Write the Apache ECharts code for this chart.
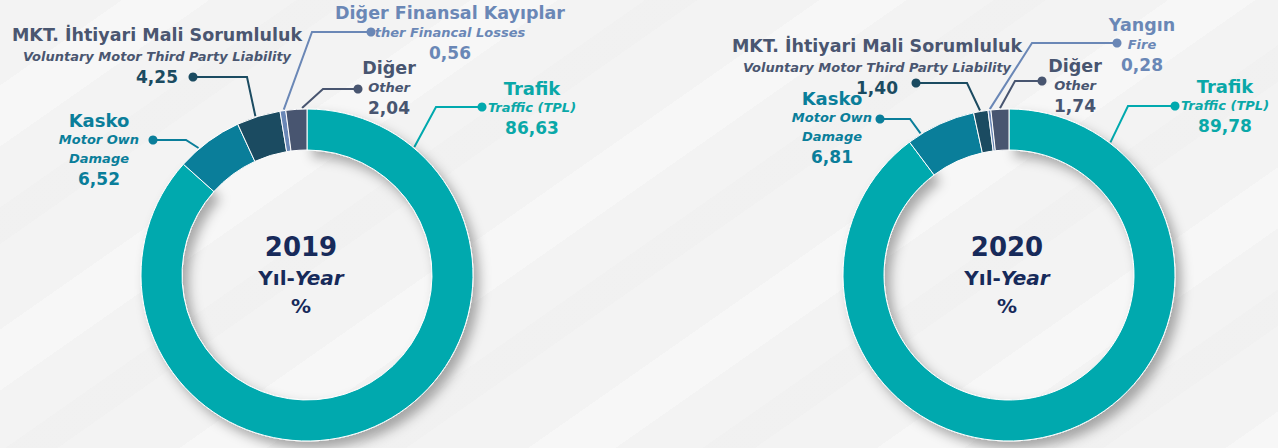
<!DOCTYPE html>
<html>
<head>
<meta charset="utf-8">
<script src="https://cdn.jsdelivr.net/npm/echarts@6/dist/echarts.min.js"></script>
<style>
  html, body { margin: 0; padding: 0; }
  body {
    width: 1278px;
    height: 448px;
    overflow: hidden;
    background-color: #f3f3f3;
    background-image: repeating-linear-gradient(145deg,
      rgba(255,255,255,0) 0px, rgba(255,255,255,0) 70px,
      rgba(255,255,255,0.35) 70px, rgba(255,255,255,0.35) 120px,
      rgba(255,255,255,0) 120px, rgba(255,255,255,0) 170px,
      rgba(236,236,236,0.3) 170px, rgba(236,236,236,0.3) 200px);
  }
  #chart { width: 1278px; height: 448px; }
</style>
</head>
<body>
<div id="chart"></div>
<script>
// data
const years = ["2019", "2020"];
const trNames2019 = ["Trafik", "Kasko", "MKT. İhtiyari Mali Sorumluluk", "Diğer Finansal Kayıplar", "Diğer"];
const enNames2019 = ["Traffic (TPL)", "Motor Own\nDamage", "Voluntary Motor Third Party Liability", "ther Financal Losses", "Other"];
const values2019 = [86.63, 6.52, 4.25, 0.56, 2.04];
const trNames2020 = ["Trafik", "Kasko", "MKT. İhtiyari Mali Sorumluluk", "Yangın", "Diğer"];
const enNames2020 = ["Traffic (TPL)", "Motor Own\nDamage", "Voluntary Motor Third Party Liability", "Fire", "Other"];
const values2020 = [89.78, 6.81, 1.40, 0.28, 1.74];

// styling
const sliceColors = ["#00a9ae", "#0a7e9a", "#1b4b61", "#6a87b6", "#485570"];
const nameColors = ["#0aa8a8", "#0a7e9a", "#4a5670", "#6a87b6", "#485570"];
const valueColors = ["#0aa8a8", "#0a7e9a", "#1b4b61", "#6a87b6", "#485570"];
const centers = [[307, 275], [1009, 275]];
const radii = [125, 166];
const centerTextX = [301, 1007];
const NAVY = "#172a5a";
const FONT = "'DejaVu Sans', Inter, sans-serif";

// label placement per pie: label centre x, label top y, dot, elbow, angle on the ring (deg clockwise from top)
const labelPlaces = [
  [
    { x: 532, y: 78, dot: [482, 107], elbow: [436, 107], ang: 40 },
    { x: 99, y: 110, dot: [153, 140], elbow: [186, 140], ang: 319.5 },
    { x: 157, y: 24, dot: [193, 77], elbow: [247, 77], ang: 342 },
    { x: 450, y: 3, dot: [371, 32], elbow: [312, 32], ang: 352 },
    { x: 389, y: 58, dot: [358, 89], elbow: [323, 89], ang: 358.3 }
  ],
  [
    { x: 1225, y: 76, dot: [1175, 106], elbow: [1128, 106], ang: 37.4 },
    { x: 832, y: 88, dot: [880, 119], elbow: [910, 119], ang: 328 },
    { x: 877, y: 35, dot: [916, 83], elbow: [967, 83], ang: 350 },
    { x: 1142, y: 15, dot: [1117, 43], elbow: [1032, 43], ang: 353.4 },
    { x: 1075, y: 56, dot: [1042, 81], elbow: [1015, 81], ang: 356.9 }
  ]
];

const fmt = (v) => v.toFixed(2).replace(".", ",");

const ringPoint = (pie, ang) => {
  const r = radii[1] + 1;
  const a = (ang * Math.PI) / 180;
  return [centers[pie][0] + r * Math.sin(a), centers[pie][1] - r * Math.cos(a)];
};

const makeRich = () => {
  const rich = {};
  nameColors.forEach((c, i) => {
    const wide = i === 2;
    rich["n" + i] = { fontFamily: FONT, fontWeight: "bold", fontSize: i < 2 ? 18 : 17.5, color: c, lineHeight: wide ? 22 : 20 };
    rich["e" + i] = { fontFamily: FONT, fontWeight: "bold", fontStyle: "italic", fontSize: 13, color: c, lineHeight: wide ? 20 : 19 };
    rich["v" + i] = { fontFamily: FONT, fontWeight: "bold", fontSize: 17, color: valueColors[i], lineHeight: 21 };
  });
  return rich;
};

const buildSeries = (pie, trNames, enNames, values) => ({
  type: "pie",
  center: centers[pie],
  radius: radii,
  startAngle: 90,
  clockwise: true,
  avoidLabelOverlap: false,
  animation: false,
  itemStyle: { borderColor: "#ffffff", borderWidth: 1 },
  data: values.map((v, i) => ({
    name: trNames[i],
    value: v,
    itemStyle: Object.assign(
      { color: sliceColors[i] },
      i === 0 ? { shadowBlur: 12, shadowOffsetX: 6, shadowOffsetY: 7, shadowColor: "rgba(0,0,0,0.32)" } : {}
    ),
    labelLine: { lineStyle: { color: sliceColors[i] } }
  })),
  label: {
    show: true,
    position: "outside",
    rich: makeRich(),
    formatter: (p) => {
      const i = p.dataIndex;
      const en = enNames[i].split("\n").map((t) => `{e${i}|${t}}`).join("\n");
      return `{n${i}|${trNames[i]}}\n${en}\n{v${i}|${fmt(values[i])}}`;
    }
  },
  labelLine: { show: true, lineStyle: { width: 2 } },
  labelLayout: (params) => {
    const lp = labelPlaces[pie][params.dataIndex];
    return {
      x: lp.x,
      y: lp.y,
      align: "center",
      verticalAlign: "top",
      labelLinePoints: [ringPoint(pie, lp.ang), lp.elbow, lp.dot]
    };
  }
});

const dots = [];
labelPlaces.forEach((places) => {
  places.forEach((lp, i) => {
    dots.push({
      type: "circle",
      shape: { cx: lp.dot[0], cy: lp.dot[1], r: 4.5 },
      style: { fill: sliceColors[i] },
      z: 100
    });
  });
});

// centre captions (zrender style: fill instead of color)
const centerTexts = years.map((yr, k) => ({
  type: "text",
  x: centerTextX[k],
  y: 230,
  z: 100,
  style: {
    text: `{y|${yr}}\n{a|Yıl-}{b|Year}\n{a|%}`,
    fill: NAVY,
    textAlign: "center",
    textVerticalAlign: "top",
    rich: {
      y: { fontFamily: FONT, fontWeight: "bold", fontSize: 26, fill: NAVY, lineHeight: 34 },
      a: { fontFamily: FONT, fontWeight: "bold", fontSize: 20, fill: NAVY, lineHeight: 28 },
      b: { fontFamily: FONT, fontWeight: "bold", fontStyle: "italic", fontSize: 20, fill: NAVY, lineHeight: 28 }
    }
  }
}));

const chart = echarts.init(document.getElementById("chart"), null, { renderer: "svg" });
chart.setOption({
  backgroundColor: "transparent",
  animation: false,
  series: [
    buildSeries(0, trNames2019, enNames2019, values2019),
    buildSeries(1, trNames2020, enNames2020, values2020)
  ],
  graphic: { elements: dots.concat(centerTexts) }
});
</script>
</body>
</html>
